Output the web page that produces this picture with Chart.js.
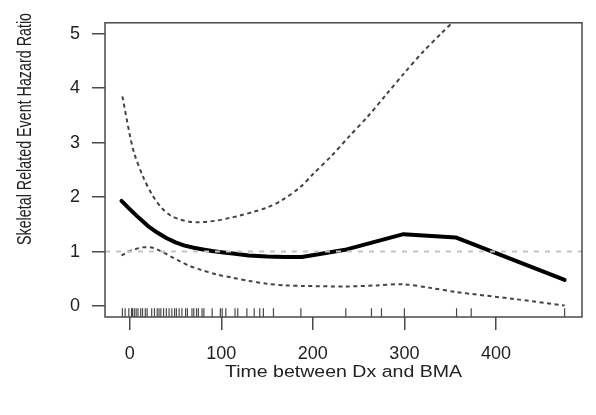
<!DOCTYPE html>
<html>
<head>
<meta charset="utf-8">
<script src="https://cdn.jsdelivr.net/npm/chart.js@4/dist/chart.umd.min.js"></script>
<style>
  html, body { margin: 0; padding: 0; background: #fff; }
  canvas { display: block; }
</style>
</head>
<body>
<canvas id="myChart" width="596" height="415"></canvas>
<script>
// fitted hazard ratio curve
var fitX = [-9, 0, 10, 20, 30, 40, 50, 60, 70, 80, 90, 100, 115, 130, 150, 170, 188, 237, 299, 356, 475];
var fitY = [1.93, 1.78, 1.62, 1.47, 1.35, 1.25, 1.17, 1.11, 1.07, 1.04, 1.01, 0.99, 0.96, 0.93, 0.91, 0.90, 0.90, 1.04, 1.32, 1.26, 0.48];

// upper confidence band
var upperX = [-8, 0, 5, 15, 25, 35, 45, 55, 65, 75, 85, 95, 110, 120, 135, 150, 165, 186, 200, 220, 240, 260, 280, 300, 320, 340, 360];
var upperY = [3.85, 3.15, 2.8, 2.36, 2.03, 1.8, 1.66, 1.59, 1.55, 1.54, 1.55, 1.57, 1.62, 1.66, 1.73, 1.81, 1.93, 2.18, 2.42, 2.75, 3.12, 3.48, 3.88, 4.28, 4.66, 5.0, 5.33];

// lower confidence band
var lowerX = [-9, 0, 5, 15, 25, 35, 45, 55, 65, 77, 95, 113, 131, 150, 170, 190, 237, 270, 299, 330, 356, 420, 475];
var lowerY = [0.93, 1.01, 1.04, 1.08, 1.07, 1.0, 0.91, 0.82, 0.74, 0.67, 0.58, 0.52, 0.46, 0.41, 0.38, 0.37, 0.36, 0.38, 0.4, 0.33, 0.26, 0.13, 0.01];

// observed times (rug)
var rugX = [-8, -5, -1, 2, 3, 5, 7, 9, 12, 14, 17, 19, 24, 27, 30, 32, 34, 37, 40, 43, 46, 49, 51, 54, 57, 61, 63, 68, 70, 73, 75, 79, 81, 90, 99, 101, 105, 115, 118, 128, 136, 142, 146, 157, 187, 236, 264, 275, 300, 357, 373, 475];

// reference line HR = 1
var refX = [-27, 494];
var refY = [1, 1];

var xTicks = [0, 100, 200, 300, 400];
var yTicks = [0, 1, 2, 3, 4, 5];

var xTitle = 'Time between Dx and BMA';
var yTitle = 'Skeletal Related Event Hazard Ratio';

function pts(xs, ys) {
  return xs.map(function (x, i) { return { x: x, y: ys[i] }; });
}

var textFont = "'Liberation Sans', Arial, Helvetica, sans-serif";

var frame = {
  id: 'frame',
  afterDraw: function (chart) {
    var c = chart.ctx, a = chart.chartArea;
    c.save();
    c.strokeStyle = '#4a4a4a';
    c.lineWidth = 1.5;
    c.strokeRect(a.left, a.top, a.right - a.left, a.bottom - a.top);
    c.fillStyle = '#222';
    // x title
    c.font = '16.3px ' + textFont;
    c.textAlign = 'center';
    c.textBaseline = 'alphabetic';
    c.translate((a.left + a.right) / 2, 377);
    c.scale(1.2, 1);
    c.fillText(xTitle, 0, 0);
    c.restore();
    // y title
    c.save();
    c.fillStyle = '#222';
    c.font = '14.3px ' + textFont;
    c.textAlign = 'center';
    c.textBaseline = 'alphabetic';
    c.translate(31, 129);
    c.rotate(-Math.PI / 2);
    c.scale(1, 1.42);
    c.fillText(yTitle, 0, 0);
    c.restore();
  }
};

var config = {
  type: 'line',
  data: {
    datasets: [{
      label: 'ref',
      data: pts(refX, refY),
      borderColor: '#c4c4c4',
      borderWidth: 2,
      borderDash: [5, 6],
      pointRadius: 0,
      tension: 0
    }, {
      label: 'upper',
      data: pts(upperX, upperY),
      borderColor: '#444',
      borderWidth: 2,
      borderDash: [4, 3.5],
      pointRadius: 0,
      tension: 0.3
    }, {
      label: 'lower',
      data: pts(lowerX, lowerY),
      borderColor: '#444',
      borderWidth: 2,
      borderDash: [4, 3.5],
      pointRadius: 0,
      tension: 0.3
    }, {
      label: 'fit',
      data: pts(fitX, fitY),
      borderColor: '#000',
      borderWidth: 4,
      pointRadius: 0,
      tension: 0,
      borderJoinStyle: 'round',
      borderCapStyle: 'round'
    }, {
      label: 'rug',
      data: rugX.map(function (x) { return { x: x, y: -0.12 }; }),
      showLine: false,
      pointStyle: 'line',
      rotation: 90,
      pointRadius: 4.5,
      pointBorderWidth: 1.2,
      pointBorderColor: 'rgba(40,40,40,0.85)',
      pointBackgroundColor: 'rgba(40,40,40,0.85)'
    }]
  },
  options: {
    responsive: false,
    animation: false,
    devicePixelRatio: 1,
    layout: { padding: { top: 20, right: 14, left: 0, bottom: 0 } },
    plugins: {
      legend: { display: false },
      tooltip: { enabled: false }
    },
    scales: {
      x: {
        type: 'linear',
        min: -27,
        max: 494,
        afterBuildTicks: function (s) { s.ticks = xTicks.map(function (v) { return { value: v }; }); },
        afterFit: function (s) { s.height = 98; },
        border: { display: false },
        grid: { drawOnChartArea: false, drawTicks: true, tickLength: 13, color: '#4a4a4a', lineWidth: 1.5 },
        ticks: { autoSkip: false, maxRotation: 0, padding: 13, color: '#222', font: { family: textFont, size: 18 } }
      },
      y: {
        type: 'linear',
        min: -0.2,
        max: 5.2,
        afterBuildTicks: function (s) { s.ticks = yTicks.map(function (v) { return { value: v }; }); },
        afterFit: function (s) { s.width = 105; },
        border: { display: false },
        grid: { drawOnChartArea: false, drawTicks: true, tickLength: 13, color: '#4a4a4a', lineWidth: 1.5 },
        ticks: { padding: 12, color: '#222', font: { family: textFont, size: 18 } }
      }
    }
  },
  plugins: [frame]
};

var ctx = document.getElementById('myChart').getContext('2d');
var myChart = new Chart(ctx, config);
</script>
</body>
</html>
